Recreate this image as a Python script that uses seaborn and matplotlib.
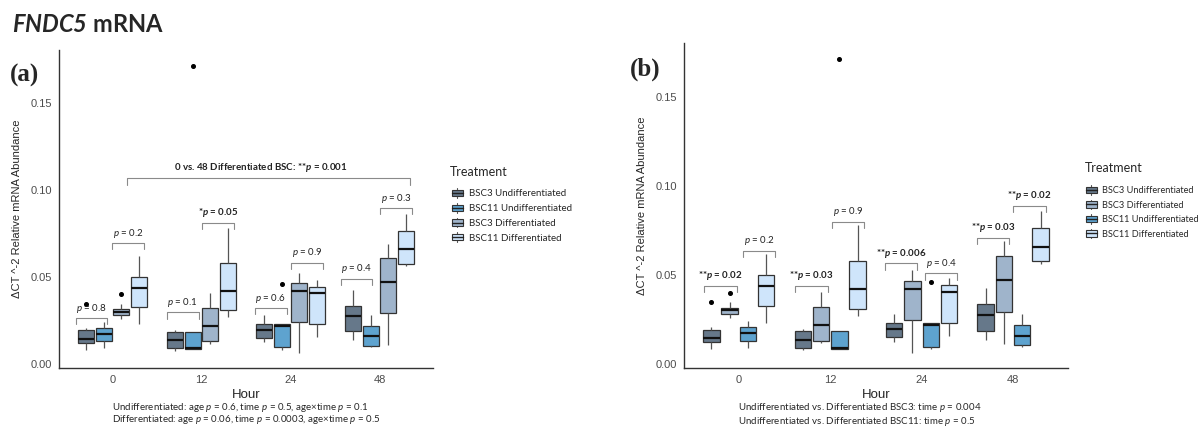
import matplotlib
matplotlib.use("Agg")
import matplotlib.pyplot as plt
import seaborn as sns
import pandas as pd
from matplotlib.patches import Patch, Rectangle
from matplotlib.lines import Line2D
from matplotlib.legend_handler import HandlerBase

hours = ["0", "12", "24", "48"]
treatments = ["BSC3 Undifferentiated", "BSC11 Undifferentiated",
              "BSC3 Differentiated", "BSC11 Differentiated"]
colors = ["#66788a", "#5ea3cf", "#9fb4cb", "#cfe5fb"]

# samples per hour (0, 12, 24, 48)
bsc3_undiff = [
    [0.008, 0.010, 0.0119, 0.013, 0.0142, 0.017, 0.0192, 0.0205, 0.0345],
    [0.0075, 0.0088, 0.0134, 0.0182, 0.0195],
    [0.0123, 0.0148, 0.0195, 0.023, 0.0282],
    [0.0134, 0.0186, 0.0272, 0.0333, 0.0425],
]
bsc11_undiff = [
    [0.009, 0.0128, 0.017, 0.0205, 0.0238],
    [0.0084, 0.0084, 0.0084, 0.0086, 0.009, 0.012, 0.0182, 0.0182, 0.1715],
    [0.008, 0.009, 0.0096, 0.015, 0.0218, 0.0225, 0.023, 0.023, 0.046],
    [0.0096, 0.0103, 0.0157, 0.0215, 0.0282],
]
bsc3_diff = [
    [0.0257, 0.027, 0.0282, 0.029, 0.030, 0.031, 0.0314, 0.0345, 0.040],
    [0.0115, 0.0128, 0.0215, 0.032, 0.0406],
    [0.006, 0.0243, 0.042, 0.0467, 0.0525],
    [0.011, 0.0291, 0.0471, 0.0607, 0.069],
]
bsc11_diff = [
    [0.0228, 0.0326, 0.0435, 0.0498, 0.062],
    [0.027, 0.031, 0.042, 0.0579, 0.078],
    [0.0153, 0.023, 0.0406, 0.044, 0.0483],
    [0.056, 0.0575, 0.0659, 0.0764, 0.086],
]

# brackets: (hour index, left offset, right offset, y, label, bold)
brackets_a = [
    (0, -0.41, -0.06, 0.0262, r"$p$ = 0.8", False),
    (0, 0.00, 0.36, 0.0693, r"$p$ = 0.2", False),
    (1, -0.39, -0.03, 0.0295, r"$p$ = 0.1", False),
    (1, 0.01, 0.37, 0.0812, r"*$\mathbfit{p}$ = 0.05", True),
    (2, -0.40, -0.04, 0.0320, r"$p$ = 0.6", False),
    (2, 0.01, 0.36, 0.0582, r"$p$ = 0.9", False),
    (3, -0.43, -0.09, 0.0490, r"$p$ = 0.4", False),
    (3, 0.01, 0.37, 0.0895, r"$p$ = 0.3", False),
]
brackets_b = [
    (0, -0.375, -0.02, 0.0438, r"**$\mathbfit{p}$ = 0.02", True),
    (0, 0.05, 0.40, 0.0635, r"$p$ = 0.2", False),
    (1, -0.38, -0.025, 0.0438, r"**$\mathbfit{p}$ = 0.03", True),
    (1, 0.02, 0.37, 0.0799, r"$p$ = 0.9", False),
    (2, -0.40, -0.05, 0.0564, r"**$\mathbfit{p}$ = 0.006", True),
    (2, 0.04, 0.39, 0.0508, r"$p$ = 0.4", False),
    (3, -0.40, -0.04, 0.0710, r"**$\mathbfit{p}$ = 0.03", True),
    (3, 0.00, 0.36, 0.0890, r"**$\mathbfit{p}$ = 0.02", True),
]

notes_a = [r"Undifferentiated: age $p$ = 0.6, time $p$ = 0.5, age×time $p$ = 0.1",
           r"Differentiated: age $p$ = 0.06, time $p$ = 0.0003, age×time $p$ = 0.5"]
notes_b = [r"Undifferentiated vs. Differentiated BSC3: time $p$ = 0.004",
           r"Undifferentiated vs. Differentiated BSC11: time $p$ = 0.5"]

sns.set_style("white")
plt.rcParams["font.family"] = ["Lato", "DejaVu Sans"]
plt.rcParams["mathtext.fontset"] = "custom"
plt.rcParams["mathtext.rm"] = "Lato"
plt.rcParams["mathtext.it"] = "Lato:italic"
plt.rcParams["mathtext.bf"] = "Lato:bold"
plt.rcParams["mathtext.bfit"] = "Lato:italic:bold"

rows = []
for name, series in zip(treatments, [bsc3_undiff, bsc11_undiff, bsc3_diff, bsc11_diff]):
    for h, vals in zip(hours, series):
        for v in vals:
            rows.append({"Hour": h, "Treatment": name, "value": v})
df = pd.DataFrame(rows)
pal = dict(zip(treatments, colors))

fig = plt.figure(figsize=(12.04, 4.26), dpi=100)
ax_a = fig.add_axes([0.049, 0.136, 0.3106, 0.746])
ax_b = fig.add_axes([0.568, 0.136, 0.319, 0.763])

order_a = treatments
order_b = [treatments[0], treatments[2], treatments[1], treatments[3]]


def draw(ax, hue_order, brackets):
    sns.boxplot(data=df, x="Hour", y="value", hue="Treatment", order=hours,
                hue_order=hue_order, palette=pal, saturation=1, width=0.8, gap=0.1,
                linewidth=0.9, linecolor="#333333", fliersize=2.6, showcaps=False,
                flierprops=dict(marker="o", markerfacecolor="black", markeredgecolor="black"),
                medianprops=dict(color="#111111", linewidth=1.6),
                whiskerprops=dict(color="#555555"), legend=False, ax=ax)
    ax.set_xlim(-0.6, 3.6)
    ax.set_ylim(-0.0025, 0.1805)
    ax.set_yticks([0, 0.05, 0.10, 0.15])
    ax.set_yticklabels(["0.00", "0.05", "0.10", "0.15"])
    sns.despine(ax=ax)
    for s in ["left", "bottom"]:
        ax.spines[s].set_color("#333333")
        ax.spines[s].set_linewidth(1.0)
    ax.tick_params(length=3, width=0.8, color="#333333", labelsize=8,
                   labelcolor="#4d4d4d", pad=2)
    for lab in ax.get_xticklabels() + ax.get_yticklabels():
        lab.set_family("Liberation Sans")
    ax.set_xlabel("Hour", fontsize=9.5, labelpad=3, family="Liberation Sans")
    ax.set_ylabel("ΔCT ^-2 Relative mRNA Abundance", fontsize=8, labelpad=6,
                  family="Liberation Sans")
    for hi, x0, x1, y, label, bold in brackets:
        ax.plot([hi + x0, hi + x0, hi + x1, hi + x1], [y - 0.0035, y, y, y - 0.0035],
                color="#8a8a8a", lw=0.8, clip_on=False)
        ax.text(hi + (x0 + x1) / 2, y + 0.0058, label, ha="center", va="center",
                fontsize=7, fontweight="bold" if bold else "normal", color="#222222")


draw(ax_a, order_a, brackets_a)
draw(ax_b, order_b, brackets_b)

# long bracket on panel (a)
ax_a.plot([0.16, 0.16, 3.34, 3.34], [0.103, 0.1067, 0.1067, 0.103], color="#8a8a8a", lw=0.8)
ax_a.text(1.67, 0.113, r"0 vs. 48 Differentiated BSC: **$\mathbfit{p}$ = 0.001",
          ha="center", va="center", fontsize=7, fontweight="bold", color="#222222")


class BoxKey(HandlerBase):
    def create_artists(self, legend, orig_handle, xdescent, ydescent, width, height,
                       fontsize, trans):
        x0, y0 = -xdescent, -ydescent
        whisker = Line2D([x0 + width / 2] * 2, [y0 - 0.1 * height, y0 + 1.1 * height],
                         color="#555555", lw=0.8, transform=trans)
        box = Rectangle((x0, y0 + 0.1 * height), width, 0.8 * height,
                        facecolor=orig_handle.get_facecolor(), edgecolor="#333333",
                        lw=0.8, transform=trans)
        mid = Line2D([x0, x0 + width], [y0 + height / 2] * 2, color="#222222",
                     lw=1.0, transform=trans)
        return [whisker, box, mid]


def legend(order, x, y, title_xy, size):
    handles = [Patch(facecolor=pal[t]) for t in order]
    fig.legend(handles, order, loc="upper left", bbox_to_anchor=(x, y),
               frameon=False, fontsize=size, handlelength=1.1 * 7 / size,
               handleheight=0.9 * 7 / size, labelspacing=0.55 * 7 / size,
               handletextpad=0.6, borderpad=0, borderaxespad=0,
               handler_map={Patch: BoxKey()})
    fig.text(title_xy[0] / 1204, 1 - title_xy[1] / 426, "Treatment", fontsize=9,
             va="center")


legend(order_a, 452 / 1204, 1 - 189 / 426, (450, 172), 7)
legend(order_b, 1086 / 1204, 1 - 186 / 426, (1085, 168), 6.6)

fig.text(12 / 1204, 1 - 32 / 426, r"$\mathbfit{FNDC5}$ mRNA", fontsize=17,
         fontweight="bold", va="baseline")
fig.text(10 / 1204, 1 - 82 / 426, "(a)", fontsize=18, fontweight="bold",
         family="Liberation Serif", va="baseline")
fig.text(630 / 1204, 1 - 76 / 426, "(b)", fontsize=18, fontweight="bold",
         family="Liberation Serif", va="baseline")

for i, t in enumerate(notes_a):
    fig.text(112 / 1204, 1 - (407 + 13 * i) / 426, t, fontsize=7, va="center")
for i, t in enumerate(notes_b):
    fig.text(738 / 1204, 1 - (408 + 13 * i) / 426, t, fontsize=7, va="center")

fig.savefig("out.png", dpi=100)
